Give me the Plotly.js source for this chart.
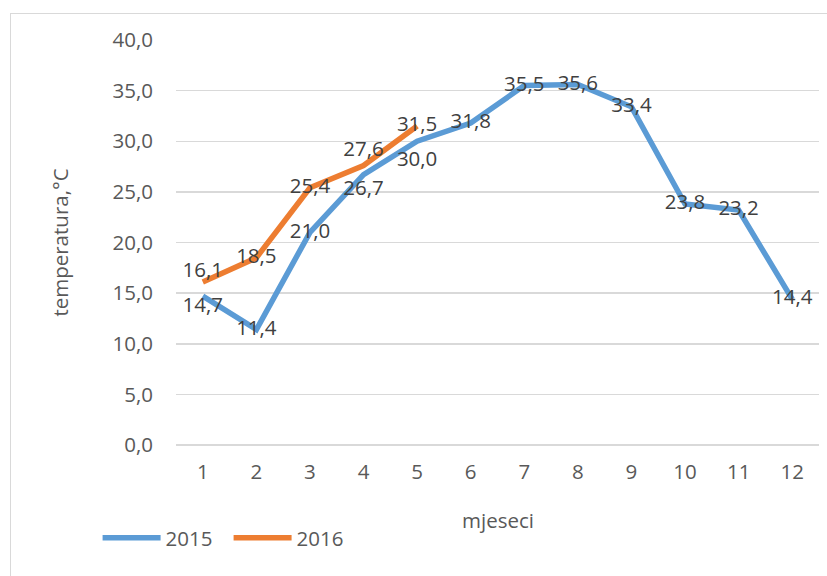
<!DOCTYPE html>
<html>
<head>
<meta charset="utf-8">
<script src="https://cdn.plot.ly/plotly-3.0.1.min.js"></script>
<style>
  html, body { margin: 0; padding: 0; background: #fff; }
  #wrap { position: relative; width: 827px; height: 576px; }
  #chart { width: 827px; height: 576px; }
  #frame {
    position: absolute; left: 10px; top: 13px; width: 820px; height: 580px;
    border: 1px solid #d9d9d9; pointer-events: none;
  }
</style>
</head>
<body>
<div id="wrap">
  <div id="chart"></div>
  <div id="frame"></div>
</div>
<script>
  const months = [1, 2, 3, 4, 5, 6, 7, 8, 9, 10, 11, 12];
  const temps2015 = [14.7, 11.4, 21.0, 26.7, 30.0, 31.8, 35.5, 35.6, 33.4, 23.8, 23.2, 14.4];
  const temps2016 = [16.1, 18.5, 25.4, 27.6, 31.5];
  const yTicks = [0, 5, 10, 15, 20, 25, 30, 35, 40];

  // label placement, mostly centred on the point like Excel does
  const pos2015 = ["bottom center", "middle center", "middle center", "bottom center", "bottom center",
    "middle center", "middle center", "middle center", "middle center", "middle center", "middle center", "middle center"];
  const pos2016 = ["top center", "middle center", "middle center", "top center", "middle center"];
  // invisible marker sizes, only used to push some labels further off the line
  const gap2015 = [0, 6, 6, 6, 14, 6, 6, 6, 6, 6, 6, 6];
  const gap2016 = [0, 6, 6, 6, 6];

  const fontFam = "Open Sans, Liberation Sans, sans-serif";
  const fsize = 20.5;
  const fmt = (v) => v.toFixed(1).replace(".", ",");

  function makeTrace(name, xs, ys, color, positions, gaps) {
    return {
      type: "scatter",
      mode: "lines+markers+text",
      name,
      x: xs,
      y: ys,
      text: ys.map(fmt),
      textposition: positions,
      textfont: { family: fontFam, size: fsize, color: "#404040" },
      line: { color, width: 5.5 },
      marker: { size: gaps, color: "rgba(0,0,0,0)", line: { width: 0 } },
      cliponaxis: false,
      hoverinfo: "skip"
    };
  }

  const traces = [
    makeTrace("2015", months, temps2015, "#5b9bd5", pos2015, gap2015),
    makeTrace("2016", months.slice(0, temps2016.length), temps2016, "#ed7d31", pos2016, gap2016)
  ];

  const axisFont = { family: fontFam, size: fsize, color: "#595959" };

  const layout = {
    width: 827,
    height: 576,
    paper_bgcolor: "#ffffff",
    plot_bgcolor: "#ffffff",
    font: axisFont,
    margin: { l: 176, r: 8, t: 40, b: 131 },
    showlegend: true,
    legend: {
      orientation: "h",
      xref: "container",
      yref: "container",
      x: 0.118,
      xanchor: "left",
      y: 1 - 538 / 576,
      yanchor: "middle",
      itemwidth: 58,
      entrywidth: 58,
      entrywidthmode: "pixels",
      font: axisFont,
      bgcolor: "rgba(0,0,0,0)"
    },
    xaxis: {
      range: [0.5, 12.5],
      tickmode: "array",
      tickvals: months,
      ticktext: months.map(String),
      showgrid: false,
      zeroline: false,
      showline: false,
      ticks: "",
      ticklabelstandoff: 12,
      automargin: false,
      tickfont: axisFont
    },
    yaxis: {
      range: [0, 40],
      tickmode: "array",
      tickvals: yTicks,
      ticktext: yTicks.map(fmt),
      showgrid: true,
      gridcolor: "#d9d9d9",
      gridwidth: 1.5,
      zeroline: true,
      zerolinecolor: "#d9d9d9",
      zerolinewidth: 1.5,
      showline: false,
      ticks: "",
      ticklabelstandoff: 22,
      tickfont: axisFont,
      title: { text: "temperatura,°C", standoff: 38, font: axisFont }
    },
    annotations: [{
      text: "mjeseci",
      xref: "paper",
      yref: "paper",
      x: 0.5,
      y: (445 - 520) / 405,
      xanchor: "center",
      yanchor: "middle",
      showarrow: false,
      font: axisFont
    }]
  };

  Plotly.newPlot("chart", traces, layout, { staticPlot: true, displayModeBar: false });
</script>
</body>
</html>
